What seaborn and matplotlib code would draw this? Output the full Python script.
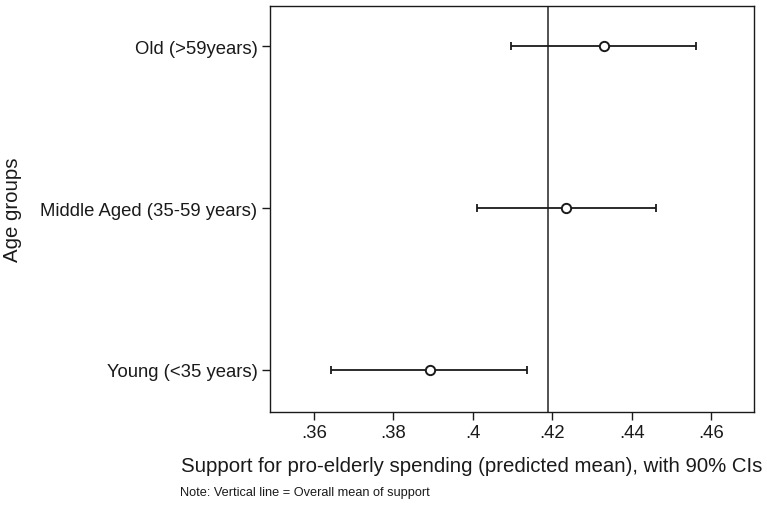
import numpy as np
import pandas as pd
import matplotlib
matplotlib.use('Agg')
import matplotlib.pyplot as plt
import seaborn as sns

# data
groups = ['Old (>59years)', 'Middle Aged (35-59 years)', 'Young (<35 years)']
means = [0.4330, 0.4235, 0.3892]
lower = [0.4096, 0.4010, 0.3644]
upper = [0.4561, 0.4461, 0.4137]
overall_mean = 0.4189
xticks = [0.36, 0.38, 0.40, 0.42, 0.44, 0.46]
xticklabels = ['.36', '.38', '.4', '.42', '.44', '.46']

sns.set_theme(style='white')
plt.rcParams['font.family'] = ['Liberation Sans', 'DejaVu Sans']

df = pd.DataFrame({'group': groups, 'mean': means, 'lo': lower, 'hi': upper})
df['pos'] = [3, 2, 1]

fig = plt.figure(figsize=(7.67, 5.06), dpi=100)
ax = fig.add_axes([0.352, 0.1838, 0.631, 0.803])

# confidence intervals
ax.errorbar(df['mean'], df['pos'],
            xerr=[df['mean'] - df['lo'], df['hi'] - df['mean']],
            fmt='none', ecolor='#1a1a1a', elinewidth=1.3, capsize=3.2, capthick=1.3, zorder=2)
sns.scatterplot(data=df, x='mean', y='pos', ax=ax, marker='o', s=45,
                facecolor='white', edgecolor='#1a1a1a', linewidth=1.4, zorder=3)

ax.axvline(overall_mean, color='#444444', lw=1.3, zorder=1)

ax.set_xlim(0.349, 0.4708)
ax.set_ylim(0.74, 3.25)
ax.set_xticks(xticks)
ax.set_xticklabels(xticklabels)
ax.set_yticks(df['pos'])
ax.set_yticklabels(df['group'])
ax.tick_params(axis='both', direction='out', length=6, width=1, color='#1a1a1a',
               labelsize=13.3, labelcolor='#1a1a1a', pad=3, bottom=True, left=True)
for sp in ax.spines.values():
    sp.set_color('#1a1a1a')
    sp.set_linewidth(1)

ax.set_xlabel('Support for pro-elderly spending (predicted mean), with 90% CIs',
              fontsize=14.7, color='#1a1a1a')
ax.xaxis.label.set_va('center')
ax.xaxis.set_label_coords(0.416, -0.131)
ax.set_ylabel('Age groups', fontsize=14.7, color='#1a1a1a')
ax.yaxis.label.set_va('center')
ax.yaxis.set_label_coords(-0.531, 0.5)

fig.text(0.2347, 0.026, 'Note: Vertical line = Overall mean of support',
         fontsize=9.2, color='#1a1a1a', va='center')

fig.savefig('out.png', dpi=100)
